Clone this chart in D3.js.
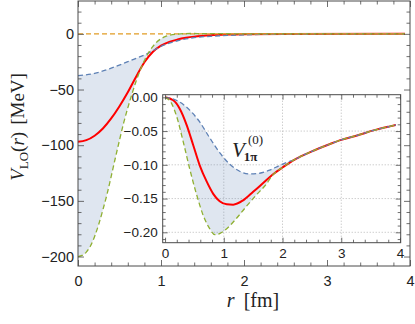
<!DOCTYPE html>
<html>
<head>
<meta charset="utf-8">
<script src="https://cdn.jsdelivr.net/npm/d3@7"></script>
<style>
  html, body { margin: 0; padding: 0; background: #fff; }
  svg { display: block; }
  .tick text { font-family: "Liberation Sans", Arial, sans-serif; fill: #222; }
</style>
</head>
<body>
<svg id="chart" width="415" height="324"></svg>
<script>
// ---------------- data ----------------
// main panel: V_LO(r) in MeV versus r in fm
const mainBlue = [[0,-37.5],[0.2,-35.5],[0.4,-30.8],[0.6,-25],[0.7,-22],[0.8,-19],[0.9,-15.3],[1.0,-11.3],[1.1,-8.4],[1.2,-6.2],[1.3,-4.6],[1.4,-3.4],[1.6,-2.2],[1.8,-1.4],[2.0,-0.9],[2.3,-0.4],[2.7,-0.15],[3.2,-0.05],[3.94,0]];
const mainGreen = [[0,-200],[0.05,-199],[0.1,-196],[0.15,-190.5],[0.2,-182],[0.25,-171],[0.3,-158],[0.35,-144],[0.4,-128],[0.45,-111.5],[0.5,-95.5],[0.55,-80],[0.6,-66.5],[0.65,-54],[0.7,-42.5],[0.75,-32.5],[0.8,-24],[0.85,-17],[0.9,-11.5],[0.95,-7.3],[1.0,-4.4],[1.05,-2.5],[1.1,-1.3],[1.2,-0.2],[1.35,0.3],[1.6,0.2],[2.0,0],[3.94,0]];
const mainRed = [[0,-97],[0.1,-95.5],[0.2,-91.5],[0.3,-85],[0.4,-76],[0.5,-65],[0.6,-52.5],[0.7,-38.5],[0.8,-25.5],[0.9,-16.3],[1.0,-10.6],[1.1,-7.2],[1.2,-5.1],[1.3,-3.6],[1.4,-2.5],[1.6,-1.2],[1.8,-0.6],[2.0,-0.3],[2.5,-0.05],[3.94,0]];
const mainZero = [[0,0],[3.94,0]];

// inset: V_1pi^(0)
const insetBlue = [[0,0],[0.1,-0.0015],[0.25,-0.007],[0.42,-0.019],[0.59,-0.0365],[0.76,-0.06],[0.93,-0.082],[1.1,-0.099],[1.27,-0.1095],[1.44,-0.1135],[1.61,-0.1125],[1.78,-0.108],[1.95,-0.101],[2.1,-0.0955]];
const insetRed = [[0,0],[0.14,-0.0044],[0.25,-0.0168],[0.37,-0.0415],[0.48,-0.071],[0.59,-0.1007],[0.71,-0.125],[0.82,-0.143],[0.93,-0.154],[1.05,-0.1585],[1.16,-0.159],[1.33,-0.1526],[1.5,-0.140],[1.67,-0.127],[1.84,-0.114],[2.0,-0.104]];
const insetGreen = [[0,0],[0.113,-0.0094],[0.2,-0.029],[0.31,-0.066],[0.42,-0.106],[0.54,-0.145],[0.65,-0.175],[0.76,-0.1946],[0.85,-0.2035],[0.93,-0.202],[1.05,-0.1946],[1.21,-0.18],[1.38,-0.162],[1.55,-0.145],[1.72,-0.129],[1.84,-0.1145],[2.0,-0.104]];
const insetTail = [[2.2,-0.0925],[2.3,-0.088],[2.5,-0.080],[2.8,-0.0695],[3.0,-0.063],[3.27,-0.0565],[3.55,-0.049],[3.83,-0.043],[3.93,-0.041]];

// ticks
const mainXTicks = [0,1,2,3,4];
const mainYTicks = [0,-50,-100,-150,-200];
const insetXTicks = [0,1,2,3,4];
const insetYTicks = [0,-0.05,-0.10,-0.15,-0.20];
const insetYLabels = ["0.00","\u22120.05","\u22120.10","\u22120.15","\u22120.20"];

// ---------------- drawing ----------------
const C = { blue:"#5E81B5", orange:"#E19C24", green:"#8FB032", red:"#FF0000", frame:"#4a4a4a" };
const svg = d3.select("#chart");
const minus = s => String(s).replace("-", "\u2212");

const x = d3.scaleLinear().domain([0,4]).range([78,410]);
const y = d3.scaleLinear().domain([-208.5,29.5]).range([266,1]);

function drawFrame(g, xs, ys, opt) {
  const [x0,x1] = xs.range(), [y0,y1] = ys.range();
  const xd = xs.domain(), yd = ys.domain();
  const major = opt.major, minor = opt.minor;
  const xMinor = d3.range(Math.ceil(xd[0]/opt.xMinorStep), Math.floor(xd[1]/opt.xMinorStep)+1).map(i=>+(i*opt.xMinorStep).toFixed(6)).filter(v=>!opt.xTicks.some(t=>Math.abs(t-v)<1e-9));
  const yMinor = d3.range(Math.ceil(yd[0]/opt.yMinorStep), Math.floor(yd[1]/opt.yMinorStep)+1).map(i=>+(i*opt.yMinorStep).toFixed(6)).filter(v=>!opt.yTicks.some(t=>Math.abs(t-v)<1e-9));
  g.append("g").attr("transform",`translate(0,${y0})`)
    .call(d3.axisBottom(xs).tickValues(opt.xTicks).tickSize(-major).tickPadding(opt.xPad).tickFormat(opt.xFmt))
    .call(a=>a.selectAll("text").style("font-size",opt.fs+"px"));
  g.append("g").attr("transform",`translate(0,${y0})`)
    .call(d3.axisBottom(xs).tickValues(xMinor).tickSize(-minor).tickFormat(""));
  g.append("g").attr("transform",`translate(0,${y1})`)
    .call(d3.axisTop(xs).tickValues(opt.xTicks).tickSize(-major).tickFormat(""));
  g.append("g").attr("transform",`translate(0,${y1})`)
    .call(d3.axisTop(xs).tickValues(xMinor).tickSize(-minor).tickFormat(""));
  g.append("g").attr("transform",`translate(${x0},0)`)
    .call(d3.axisLeft(ys).tickValues(opt.yTicks).tickSize(-major).tickPadding(opt.yPad).tickFormat(opt.yFmt))
    .call(a=>a.selectAll("text").style("font-size",opt.fs+"px"));
  g.append("g").attr("transform",`translate(${x0},0)`)
    .call(d3.axisLeft(ys).tickValues(yMinor).tickSize(-minor).tickFormat(""));
  g.append("g").attr("transform",`translate(${x1},0)`)
    .call(d3.axisRight(ys).tickValues(opt.yTicks).tickSize(-major).tickFormat(""));
  g.append("g").attr("transform",`translate(${x1},0)`)
    .call(d3.axisRight(ys).tickValues(yMinor).tickSize(-minor).tickFormat(""));
  g.selectAll(".domain").remove();
  g.selectAll(".tick line").attr("stroke",C.frame).attr("stroke-width",0.8);
  g.append("rect").attr("x",x0).attr("y",y1).attr("width",x1-x0).attr("height",y0-y1)
    .attr("fill","none").attr("stroke",C.frame).attr("stroke-width",1);
}

// region between two curves = symmetric difference of the two "above-curve" areas (evenodd)
function band(xs, ys, upper, lower) {
  const top = ys.domain()[1];
  const ar = d3.area().x(d=>xs(d[0])).y0(ys(top)).y1(d=>ys(d[1])).curve(d3.curveMonotoneX);
  return ar(upper) + ar(lower);
}

// ---- main panel ----
const mainG = svg.append("g");
mainG.append("path").attr("d", band(x, y, mainBlue, mainGreen)).attr("fill-rule","evenodd")
  .attr("fill", C.blue).attr("fill-opacity", 0.2).attr("stroke","none");
const lineMain = d3.line().x(d=>x(d[0])).y(d=>y(d[1])).curve(d3.curveMonotoneX);
mainG.append("path").attr("d", lineMain(mainRed)).attr("fill","none").attr("stroke",C.red).attr("stroke-width",2);
mainG.append("path").attr("d", lineMain(mainBlue)).attr("fill","none").attr("stroke",C.blue).attr("stroke-width",1.3).attr("stroke-dasharray","5,3");
mainG.append("path").attr("d", lineMain(mainZero)).attr("fill","none").attr("stroke",C.orange).attr("stroke-width",1.4).attr("stroke-dasharray","5,3");
mainG.append("path").attr("d", lineMain(mainGreen)).attr("fill","none").attr("stroke",C.green).attr("stroke-width",1.3).attr("stroke-dasharray","5,3");

drawFrame(svg.append("g"), x, y, {
  major:6, minor:3.5, xMinorStep:0.2, yMinorStep:10,
  xTicks: mainXTicks, yTicks: mainYTicks,
  xFmt: d=>minus(d), yFmt: d=>minus(d), xPad:10, yPad:4, fs:14.5
});

const xt = svg.append("text").attr("x",253).attr("y",307).attr("text-anchor","middle")
  .style("font-family","'Liberation Serif','Times New Roman',serif").style("font-size","20px")
  .attr("fill","#222");
xt.append("tspan").style("font-style","italic").text("r");
xt.append("tspan").attr("dx",9).text("[fm]");

const yt = svg.append("text").attr("transform","translate(24,127) rotate(-90)").attr("text-anchor","middle")
  .style("font-family","'Liberation Serif','Times New Roman',serif").style("font-size","19px").attr("fill","#222");
yt.append("tspan").style("font-style","italic").text("V");
yt.append("tspan").attr("dy",4).style("font-size","13px").text("LO");
yt.append("tspan").attr("dy",-4).text("(");
yt.append("tspan").style("font-style","italic").text("r");
yt.append("tspan").text(")");
yt.append("tspan").attr("dx",7).text("[MeV]");

// ---- inset ----
const xi = d3.scaleLinear().domain([-0.04,4.012]).range([162.7,400.7]);
const yi = d3.scaleLinear().domain([-0.2154,0.0039]).range([242.7,94.7]);
const insG = svg.append("g");
insG.append("rect").attr("x",xi.range()[0]).attr("y",yi.range()[1])
  .attr("width",xi.range()[1]-xi.range()[0]).attr("height",yi.range()[0]-yi.range()[1]).attr("fill","#fff");
insG.selectAll(".gx").data([1,2,3]).join("line")
  .attr("x1",d=>xi(d)).attr("x2",d=>xi(d)).attr("y1",yi.range()[1]).attr("y2",yi.range()[0])
  .attr("stroke","#b8b8b8").attr("stroke-width",1).attr("stroke-dasharray","1,2");
insG.selectAll(".gy").data([-0.05,-0.10,-0.15,-0.20]).join("line")
  .attr("y1",d=>yi(d)).attr("y2",d=>yi(d)).attr("x1",xi.range()[0]).attr("x2",xi.range()[1])
  .attr("stroke","#b8b8b8").attr("stroke-width",1).attr("stroke-dasharray","1,2");

const blueFull = insetBlue.concat(insetTail);
const redFull = insetRed.concat(insetTail);
const greenFull = insetGreen.concat(insetTail);
insG.append("path").attr("d", band(xi, yi, blueFull, greenFull)).attr("fill-rule","evenodd")
  .attr("fill", C.blue).attr("fill-opacity", 0.2).attr("stroke","none");
const lineIns = d3.line().x(d=>xi(d[0])).y(d=>yi(d[1])).curve(d3.curveMonotoneX);
insG.append("path").attr("d", lineIns(redFull)).attr("fill","none").attr("stroke",C.red).attr("stroke-width",2);
insG.append("path").attr("d", lineIns(blueFull)).attr("fill","none").attr("stroke",C.blue).attr("stroke-width",1.3).attr("stroke-dasharray","5,3");
insG.append("path").attr("d", lineIns(greenFull)).attr("fill","none").attr("stroke",C.green).attr("stroke-width",1.3).attr("stroke-dasharray","5,3");

drawFrame(svg.append("g"), xi, yi, {
  major:5, minor:3, xMinorStep:0.2, yMinorStep:0.01,
  xTicks: insetXTicks, yTicks: insetYTicks,
  xFmt: d=>minus(d), yFmt: (d,i)=>insetYLabels[i], xPad:6, yPad:5, fs:13.5
});

const lab = svg.append("text").attr("x",232).attr("y",157)
  .style("font-family","'Liberation Serif','Times New Roman',serif").style("font-size","21px").attr("fill","#222");
lab.append("tspan").style("font-style","italic").text("V");
lab.append("tspan").attr("dy",4).attr("dx",-1).style("font-size","13px").style("font-weight","bold").text("1\u03C0");
lab.append("tspan").attr("x",248).attr("dy",-17).style("font-size","13px").text("(0)");
</script>
</body>
</html>
